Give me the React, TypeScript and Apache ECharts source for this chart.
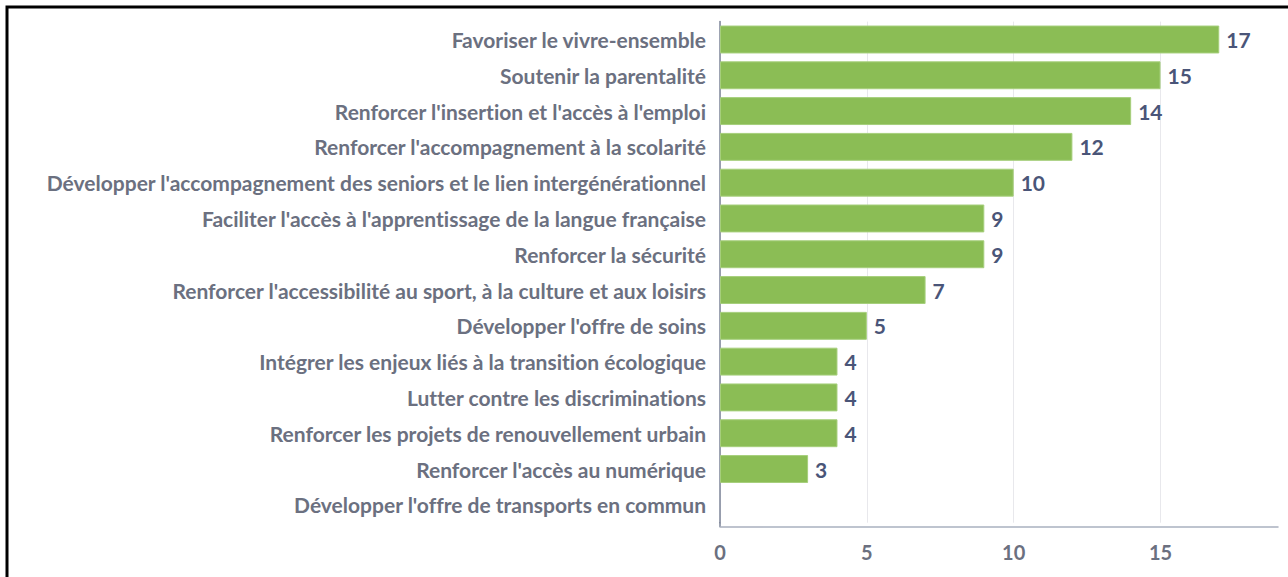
import React, { useEffect, useRef } from "react";
import * as echarts from "echarts";

const categories = [
  "Favoriser le vivre-ensemble",
  "Soutenir la parentalité",
  "Renforcer l'insertion et l'accès à l'emploi",
  "Renforcer l'accompagnement à la scolarité",
  "Développer l'accompagnement des seniors et le lien intergénérationnel",
  "Faciliter l'accès à l'apprentissage de la langue française",
  "Renforcer la sécurité",
  "Renforcer l'accessibilité au sport, à la culture et aux loisirs",
  "Développer l'offre de soins",
  "Intégrer les enjeux liés à la transition écologique",
  "Lutter contre les discriminations",
  "Renforcer les projets de renouvellement urbain",
  "Renforcer l'accès au numérique",
  "Développer l'offre de transports en commun",
];
const values = [17, 15, 14, 12, 10, 9, 9, 7, 5, 4, 4, 4, 3, 0];

export default function App() {
  const ref = useRef<HTMLDivElement>(null);
  useEffect(() => {
    if (!ref.current) return;
    const chart = echarts.init(ref.current, null, { renderer: "svg" });
    chart.setOption({
      animation: false,
      backgroundColor: "#ffffff",
      textStyle: { fontFamily: "Lato" },
      grid: { left: 720, right: 10, top: 21.6, bottom: 54.3, containLabel: false },
      xAxis: {
        type: "value",
        min: 0,
        max: 19,
        interval: 5,
        offset: 4,
        axisLine: { show: true, lineStyle: { color: "#a9b0bf", width: 1.5 } },
        axisTick: { show: false },
        axisLabel: {
          showMaxLabel: false,
          margin: 15,
          color: "#6b7080",
          fontSize: 20,
          fontWeight: "bold",
          fontFamily: "Lato",
        },
        splitLine: { show: true, showMaxLine: false, lineStyle: { color: "#e8e8ec", width: 1 } },
      },
      yAxis: {
        type: "category",
        data: categories,
        inverse: true,
        axisLine: { show: true, lineStyle: { color: "#7d8598", width: 1.5 } },
        axisTick: { show: false },
        axisLabel: {
          margin: 14,
          color: "#6b7080",
          fontSize: 21,
          fontWeight: "bold",
          fontFamily: "Lato",
        },
        splitLine: { show: false },
      },
      series: [
        {
          type: "bar",
          data: values.map((v) => (v === 0 ? null : v)),
          barCategoryGap: "22%",
          itemStyle: { color: "#8bbd55", borderColor: "#a6cf7c", borderWidth: 1 },
          label: {
            show: true,
            position: "right",
            distance: 7,
            color: "#4a5578",
            fontSize: 21,
            fontWeight: "bold",
            fontFamily: "Lato",
          },
        },
      ],
      graphic: [
        {
          type: "polyline",
          shape: { points: [[7, 577], [7, 7], [1288, 7]] },
          style: { stroke: "#000000", lineWidth: 3, fill: "none" },
          silent: true,
        },
        {
          type: "line",
          shape: { x1: 720, y1: 522, x2: 720, y2: 527 },
          style: { stroke: "#7d8598", lineWidth: 1.5 },
          silent: true,
        },
      ],
    });
    return () => chart.dispose();
  }, []);
  return (
    <>
      <style>{"svg text { font-variant-ligatures: none; }"}</style>
      <div
        ref={ref}
        style={{ position: "absolute", left: 0, top: 0, width: 1288, height: 577 }}
      />
    </>
  );
}
